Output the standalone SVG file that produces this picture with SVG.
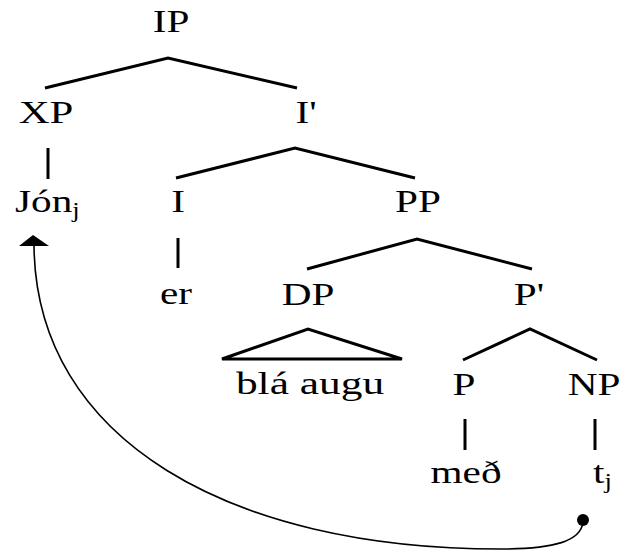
<svg xmlns="http://www.w3.org/2000/svg" width="622" height="551" viewBox="0 0 622 551">
<style>
text{font-family:"Liberation Serif","Times New Roman","DejaVu Serif",Times,serif;font-size:31px;fill:#000;font-weight:normal}
.m{text-anchor:middle}
.sub{font-size:20px}
.e{stroke:#000;stroke-width:3;fill:none;stroke-linecap:butt}
.mv{stroke:#000;stroke-width:1.6;fill:none}
</style>
<rect width="622" height="551" fill="#fff"/>
<g id="connectors">
<polyline class="e" points="45,88 168,58 297,88"/>
<line class="e" x1="48" y1="148" x2="48" y2="179"/>
<polyline class="e" points="176,178 295,148 415,178"/>
<line class="e" x1="178" y1="238" x2="178" y2="268"/>
<polyline class="e" points="307,269 417,239 532,269"/>
<polygon class="e" points="222,359 308,329 402,359"/>
<polyline class="e" points="463,360 530,329 597,360"/>
<line class="e" x1="465" y1="419" x2="465" y2="450"/>
<line class="e" x1="595" y1="419" x2="595" y2="450"/>
<path class="mv" d="M583,522 C581,541 555,549 500,549 C230,549 36,440 34,246"/>
<polygon points="33,235 19,246 49,246" fill="#000"/>
<circle cx="583" cy="520" r="6" fill="#000"/>
</g>
<g id="IP"><text class="m" transform="translate(171,32) scale(1.33,1)">IP</text></g>
<g id="XP"><text class="m" transform="translate(46,123) scale(1.38,1)">XP</text></g>
<g id="Ibar"><text class="m" transform="translate(306,123) scale(1.33,1)">I'</text></g>
<g id="Jon"><text transform="translate(15,212) scale(1.33,1)">Jón<tspan class="sub" dy="5">j</tspan></text></g>
<g id="I"><text class="m" transform="translate(178,212) scale(1.33,1)">I</text></g>
<g id="PP"><text class="m" transform="translate(418,212) scale(1.33,1)">PP</text></g>
<g id="er"><text class="m" transform="translate(176,304) scale(1.33,1)">er</text></g>
<g id="DP"><text class="m" transform="translate(308,305) scale(1.33,1)">DP</text></g>
<g id="Pbar"><text class="m" transform="translate(529,305) scale(1.33,1)">P'</text></g>
<g id="DPcontent"><text class="m" transform="translate(310,394) scale(1.4,1)">blá augu</text></g>
<g id="P"><text class="m" transform="translate(464,395) scale(1.33,1)">P</text></g>
<g id="NP"><text class="m" transform="translate(594,395) scale(1.33,1)">NP</text></g>
<g id="med"><text class="m" transform="translate(466,483) scale(1.33,1)">með</text></g>
<g id="t"><text transform="translate(593,483) scale(1.33,1)">t<tspan class="sub" dy="5">j</tspan></text></g>
</svg>
